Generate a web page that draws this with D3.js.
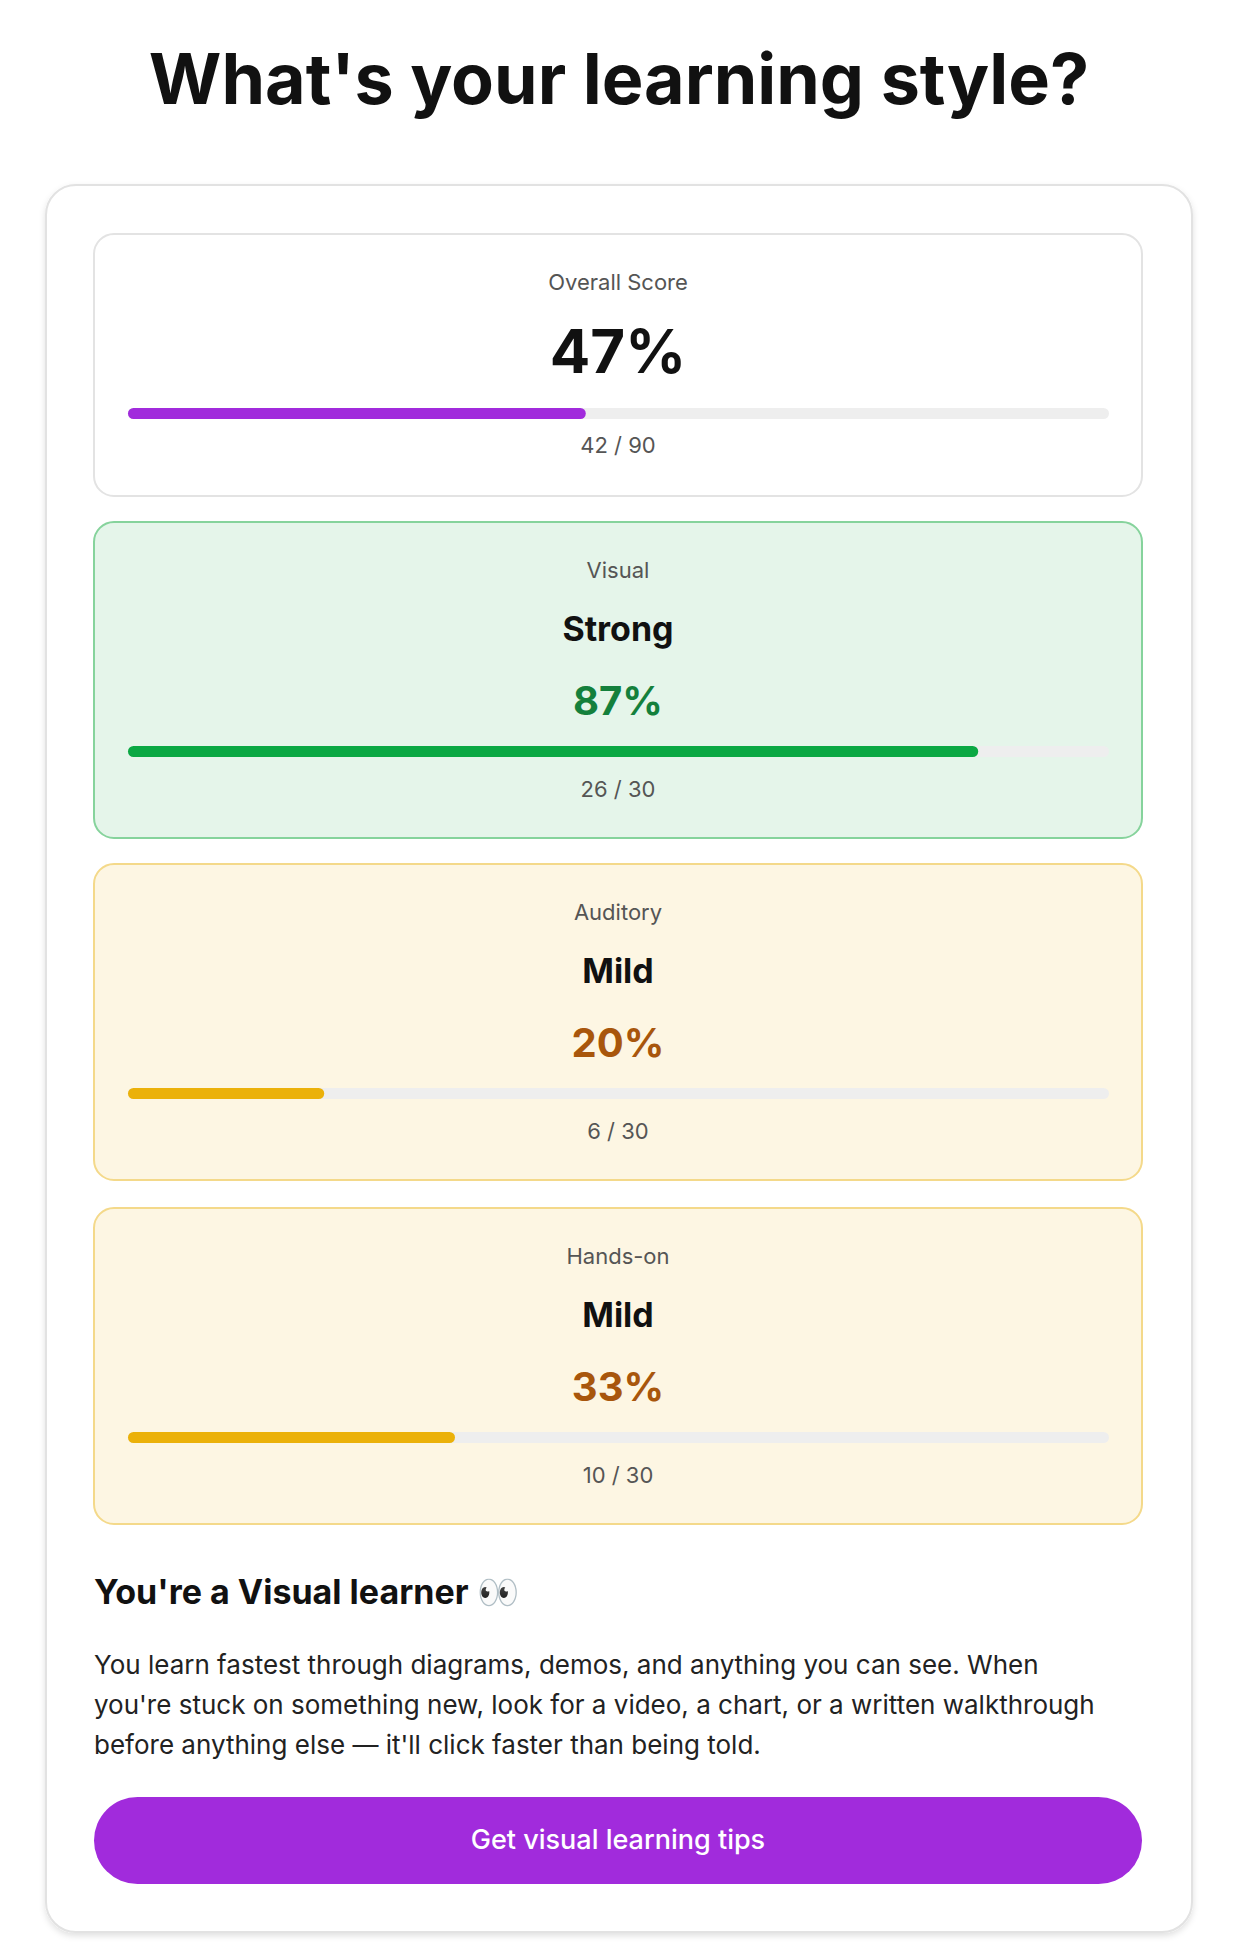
<!DOCTYPE html>
<html>
<head>
<meta charset="utf-8">
<script src="https://cdn.jsdelivr.net/npm/d3@7"></script>
<style>
  body{margin:0;background:#fff;font-family:Inter,"Noto Sans",sans-serif;}
</style>
</head>
<body>
<svg id="chart"></svg>
<script>
// data
var categories = ["Overall Score","Visual","Auditory","Hands-on"];
var levels = [null,"Strong","Mild","Mild"];
var scores = [42,26,6,10];
var maxScores = [90,30,30,30];
var tones = ["overall","strong","mild","mild"];
var titleText = "What's your learning style?";
var resultHeading = "You're a Visual learner 👀";
var resultLines = [
  "You learn fastest through diagrams, demos, and anything you can see. When",
  "you're stuck on something new, look for a video, a chart, or a written walkthrough",
  "before anything else \u2014 it'll click faster than being told."
];
var buttonText = "Get visual learning tips";

var palette = {
  overall:{bg:"#ffffff",border:"#e3e3e3",bar:"#a12bdc",text:"#111111"},
  strong:{bg:"#e5f5ea",border:"#86d39c",bar:"#0aa843",text:"#14803c"},
  mild:{bg:"#fdf6e3",border:"#f4d98a",bar:"#ebb10a",text:"#a8560c"}
};

var screen = {width:1240,height:1950};
var svg = d3.select("#chart").attr("width",screen.width).attr("height",screen.height);

var defs = svg.append("defs");
var f = defs.append("filter").attr("id","shadow").attr("x","-5%").attr("y","-5%").attr("width","110%").attr("height","110%");
f.append("feDropShadow").attr("dx",0).attr("dy",3).attr("stdDeviation",3).attr("flood-color","#000").attr("flood-opacity",0.12);

svg.append("text").text(titleText)
  .attr("x",619).attr("y",104).attr("text-anchor","middle")
  .attr("font-size",70).attr("font-weight",700).attr("fill","#111");

// outer card
svg.append("rect").attr("x",46).attr("y",185).attr("width",1146).attr("height",1747)
  .attr("rx",30).attr("fill","#fff").attr("stroke","#e2e2e2").attr("stroke-width",2)
  .attr("filter","url(#shadow)");

var cardX = 94, cardW = 1048;
var cardTops = [234,522,864,1208];
var cardHeights = [262,316,316,316];

var xScale = d3.scaleLinear().domain([0,1]).range([0,981]);

var cards = svg.selectAll("g.card").data(categories).enter().append("g")
  .classed("card",true)
  .attr("transform",function(d,i){return "translate("+cardX+","+cardTops[i]+")";});

cards.append("rect").attr("width",cardW).attr("height",function(d,i){return cardHeights[i];})
  .attr("rx",20)
  .attr("fill",function(d,i){return palette[tones[i]].bg;})
  .attr("stroke",function(d,i){return palette[tones[i]].border;})
  .attr("stroke-width",2);

cards.append("text").text(function(d){return d;})
  .attr("x",cardW/2).attr("y",56).attr("text-anchor","middle")
  .attr("font-size",22).attr("fill","#555");

cards.each(function(d,i){
  var g = d3.select(this);
  var pct = Math.round(scores[i]/maxScores[i]*100);
  var pctY, barY, countY;
  if(levels[i]===null){
    g.append("text").text(pct+"%").attr("x",cardW/2).attr("y",139)
      .attr("text-anchor","middle").attr("font-size",60).attr("font-weight",700).attr("fill","#111");
    barY = 174; countY = 219;
  } else {
    g.append("text").text(levels[i]).attr("x",cardW/2).attr("y",119)
      .attr("text-anchor","middle").attr("font-size",34).attr("font-weight",700).attr("fill","#111");
    g.append("text").text(pct+"%").attr("x",cardW/2).attr("y",193)
      .attr("text-anchor","middle").attr("font-size",40).attr("font-weight",700)
      .attr("fill",palette[tones[i]].text);
    barY = 224; countY = 275;
  }
  g.append("rect").attr("x",34).attr("y",barY).attr("width",xScale(1)).attr("height",11)
    .attr("rx",5.5).attr("fill","#eeeeee");
  g.append("rect").attr("x",34).attr("y",barY).attr("width",xScale(scores[i]/maxScores[i])).attr("height",11)
    .attr("rx",5.5).attr("fill",palette[tones[i]].bar);
  g.append("text").text(scores[i]+" / "+maxScores[i]).attr("x",cardW/2).attr("y",countY)
    .attr("text-anchor","middle").attr("font-size",22).attr("fill","#555");
});

svg.append("text").text(resultHeading).attr("x",94).attr("y",1604)
  .attr("font-size",34).attr("font-weight",700).attr("fill","#111");

svg.selectAll("text.para").data(resultLines).enter().append("text")
  .classed("para",true).text(function(d){return d;})
  .attr("x",94).attr("y",function(d,i){return 1674+i*40;})
  .attr("font-size",26).attr("fill","#222");

svg.append("rect").attr("x",94).attr("y",1797).attr("width",1048).attr("height",87)
  .attr("rx",43.5).attr("fill","#a12bdc");
svg.append("text").text(buttonText).attr("x",618).attr("y",1849)
  .attr("text-anchor","middle").attr("font-size",27).attr("font-weight",500).attr("fill","#fff");
</script>
</body>
</html>
